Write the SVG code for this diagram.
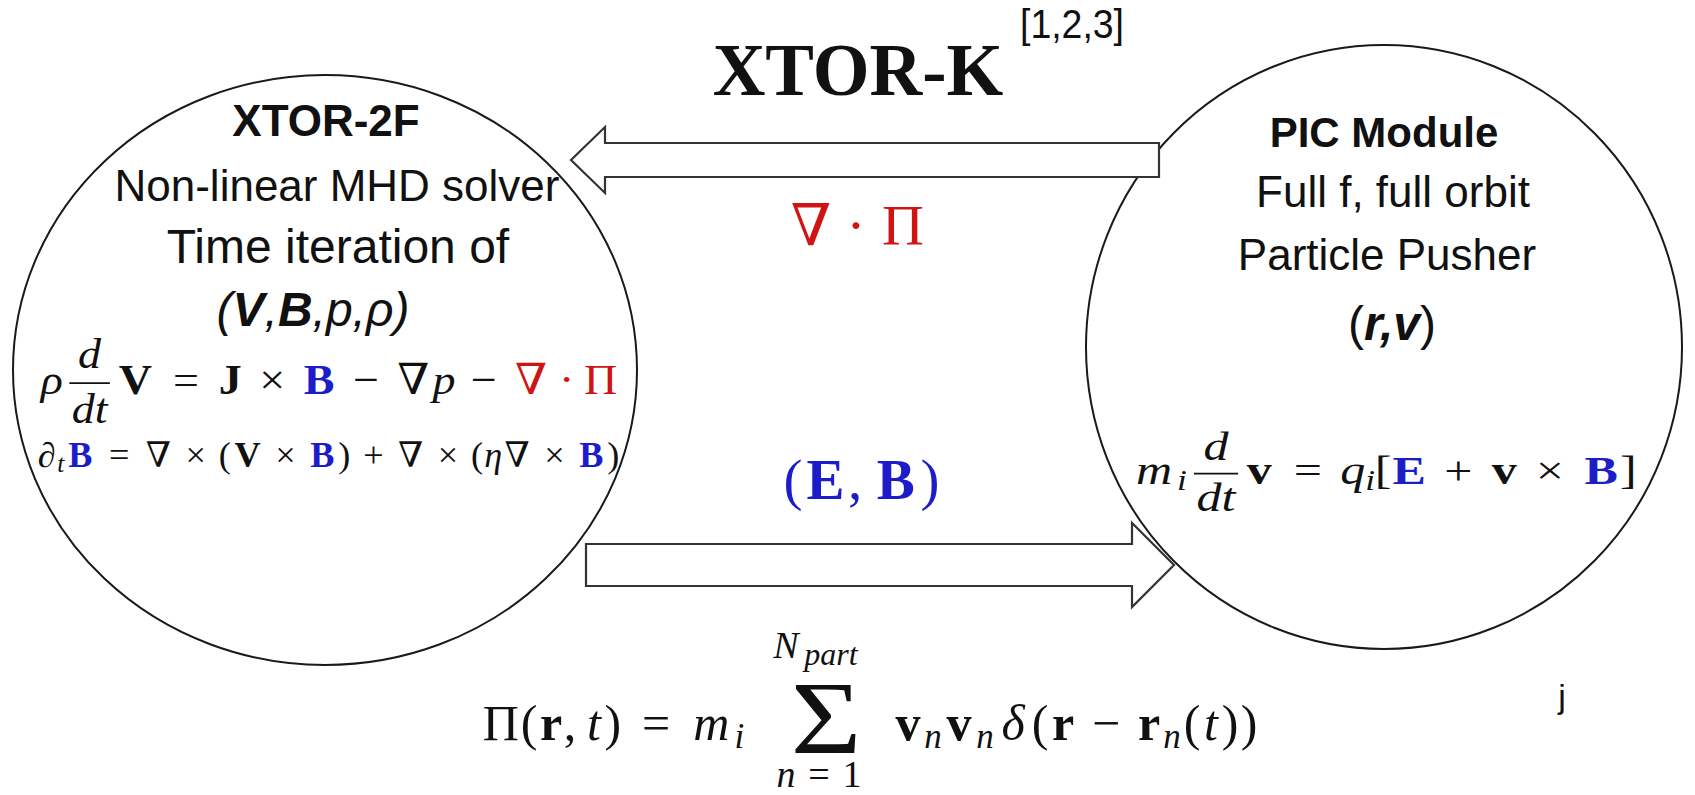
<svg xmlns="http://www.w3.org/2000/svg" width="1695" height="795" viewBox="0 0 1695 795">
<style>
.bg{fill:#ffffff}
.node{fill:#ffffff;stroke:#1a1a1a;stroke-width:2}
.arrow{fill:#ffffff;stroke:#333333;stroke-width:2.2;stroke-linejoin:miter}
.sans{font-family:"Liberation Sans",Arial,sans-serif;fill:#111111}
.m{font-family:"Liberation Serif","DejaVu Serif",serif;fill:#111111}
.it{font-style:italic}
.bf{font-weight:bold}
.blue{fill:#1c1cc8}
.red{fill:#d01414}
.bar{stroke:#111111;stroke-width:1.8}
</style>
<rect class="bg" x="0" y="0" width="1695" height="795"/>

<g id="title">
  <text class="m bf" x="858" y="95" font-size="73" text-anchor="middle">XTOR-K</text>
  <text class="sans" x="1020" y="38" font-size="40" textLength="104" lengthAdjust="spacingAndGlyphs" fill="#1e1e30">[1,2,3]</text>
</g>

<g id="node-xtor2f">
  <ellipse class="node" cx="325" cy="370" rx="312" ry="295"/>
  <text class="sans bf" x="326" y="136" font-size="44" text-anchor="middle">XTOR-2F</text>
  <text class="sans" x="337" y="201" font-size="44" text-anchor="middle">Non-linear MHD solver</text>
  <text class="sans" x="338" y="263" font-size="48" text-anchor="middle">Time iteration of</text>
  <text class="sans it" x="313" y="326" font-size="48" text-anchor="middle">(<tspan class="bf">V</tspan>,<tspan class="bf">B</tspan>,p,ρ)</text>
  <g transform="translate(40,394) scale(1.07,1)">
    <text class="m" font-size="43" text-anchor="middle"><tspan x="11.1" class="it">ρ</tspan><tspan x="89.1" class="bf">V</tspan><tspan x="136.5">=</tspan><tspan x="177.9" class="bf">J</tspan><tspan x="217">×</tspan><tspan x="260.8" class="bf blue">B</tspan><tspan x="304.7">−</tspan><tspan x="348.9">∇</tspan><tspan x="377.6" class="it">p</tspan><tspan x="414.7">−</tspan><tspan x="458.9" class="red">∇</tspan><tspan x="492.3" class="red">·</tspan><tspan x="524" class="red">Π</tspan></text>
    <text class="m it" font-size="43" text-anchor="middle" x="46.3" y="-26">d</text>
    <text class="m it" font-size="43" text-anchor="middle" x="46.3" y="29">dt</text>
    <line class="bar" x1="27.4" y1="-10.8" x2="65.3" y2="-10.8"/>
  </g>
  <g transform="translate(37,467) scale(1.035,1)">
    <text class="m" font-size="35" text-anchor="middle"><tspan x="9.3">∂</tspan><tspan x="23" y="5" class="it" font-size="24.5">t</tspan><tspan x="41.8" y="0" class="bf blue">B</tspan><tspan x="79.4">=</tspan><tspan x="117.3">∇</tspan><tspan x="153.3">×</tspan><tspan x="181.5">(</tspan><tspan x="203.5" class="bf">V</tspan><tspan x="240.1">×</tspan><tspan x="275.8" class="bf blue">B</tspan><tspan x="296.9">)</tspan><tspan x="325.1">+</tspan><tspan x="361.1">∇</tspan><tspan x="397">×</tspan><tspan x="425.2">(</tspan><tspan x="440.7" class="it">η</tspan><tspan x="464">∇</tspan><tspan x="500">×</tspan><tspan x="535.7" class="bf blue">B</tspan><tspan x="556.8">)</tspan></text>
  </g>
</g>

<g id="node-pic">
  <ellipse class="node" cx="1384" cy="347" rx="298" ry="302"/>
  <text class="sans bf" x="1384" y="147" font-size="42" text-anchor="middle">PIC Module</text>
  <text class="sans" x="1393" y="207" font-size="44" text-anchor="middle">Full f, full orbit</text>
  <text class="sans" x="1387" y="270" font-size="44" text-anchor="middle">Particle Pusher</text>
  <text class="sans" x="1392" y="340" font-size="48" text-anchor="middle">(<tspan class="bf it">r,v</tspan>)</text>
  <g transform="translate(1132,484) scale(1.22,1)">
    <text class="m" font-size="41" text-anchor="middle"><tspan x="18" class="it">m</tspan><tspan x="41" y="6" class="it" font-size="29">i</tspan><tspan x="104.3" y="0" class="bf">v</tspan><tspan x="144.1">=</tspan><tspan x="180.9" class="it">q</tspan><tspan x="195.3" y="6" class="it" font-size="29">i</tspan><tspan x="205.9" y="0">[</tspan><tspan x="227.1" class="bf blue">E</tspan><tspan x="267.6">+</tspan><tspan x="305.1" class="bf">v</tspan><tspan x="342.6">×</tspan><tspan x="384.5" class="bf blue">B</tspan><tspan x="406.9">]</tspan></text>
    <text class="m it" font-size="41" text-anchor="middle" x="68.9" y="-24">d</text>
    <text class="m it" font-size="41" text-anchor="middle" x="68.9" y="27">dt</text>
    <line class="bar" x1="50.8" y1="-10.3" x2="87" y2="-10.3"/>
  </g>
</g>

<g id="connectors">
  <polygon class="arrow" points="571,160 605,127 605,143 1159,143 1159,177 605,177 605,193"/>
  <polygon class="arrow" points="586,544 1132,544 1132,523 1174,565 1132,607 1132,586 586,586"/>
  <text class="m red" font-size="58" text-anchor="middle" y="245"><tspan x="811">∇</tspan><tspan x="856">·</tspan><tspan x="903">Π</tspan></text>
  <text class="m blue" font-size="57" text-anchor="middle" y="499"><tspan x="793">(</tspan><tspan x="825.6" class="bf">E</tspan><tspan x="855">,</tspan><tspan x="895.8" class="bf">B</tspan><tspan x="930">)</tspan></text>
</g>

<g id="pi-formula">
  <text class="m" font-size="50" text-anchor="middle" y="740"><tspan x="500.8">Π</tspan><tspan x="529.2">(</tspan><tspan x="551" class="bf">r</tspan><tspan x="570">,</tspan><tspan x="594" class="it">t</tspan><tspan x="612.8">)</tspan><tspan x="656">=</tspan><tspan x="711.3" class="it">m</tspan><tspan x="739.3" y="747.5" class="it" font-size="35">i</tspan><tspan x="908" y="740" class="bf">v</tspan><tspan x="933" y="747.5" class="it" font-size="35">n</tspan><tspan x="959" y="740" class="bf">v</tspan><tspan x="985" y="747.5" class="it" font-size="35">n</tspan><tspan x="1013" y="740" class="it">δ</tspan><tspan x="1040">(</tspan><tspan x="1063" class="bf">r</tspan><tspan x="1106">−</tspan><tspan x="1149" class="bf">r</tspan><tspan x="1172" y="747.5" class="it" font-size="35">n</tspan><tspan x="1192" y="740">(</tspan><tspan x="1211" class="it">t</tspan><tspan x="1230">)</tspan><tspan x="1249">)</tspan></text>
  <text class="m" font-size="103" text-anchor="middle" transform="translate(826,753) scale(1.18,1)">Σ</text>
  <text class="m it" text-anchor="middle" y="658"><tspan x="786" font-size="38">N</tspan><tspan x="831" y="665" font-size="32">part</tspan></text>
  <text class="m" font-size="38" text-anchor="middle" y="787"><tspan x="786" class="it">n</tspan><tspan x="819">=</tspan><tspan x="852">1</tspan></text>
  <text class="sans" x="1562" y="708" font-size="34" text-anchor="middle">j</text>
</g>
</svg>
